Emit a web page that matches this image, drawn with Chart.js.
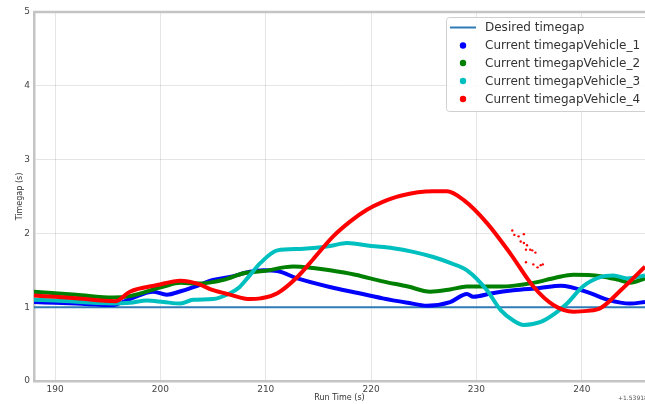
<!DOCTYPE html>
<html>
<head>
<meta charset="utf-8">
<script src="https://cdn.jsdelivr.net/npm/chart.js@4"></script>
<style>
  html, body { margin: 0; padding: 0; background: #fff; }
  canvas { display: block; }
</style>
</head>
<body>
<canvas id="chart" width="645" height="404"></canvas>
<script>
const seriesNames = ['Desired timegap', 'Current timegapVehicle_1', 'Current timegapVehicle_2',
  'Current timegapVehicle_3', 'Current timegapVehicle_4'];
const seriesColors = ['#2f7bb6', '#0000ff', '#008000', '#00bfbf', '#ff0000'];

const xTicks = [190, 200, 210, 220, 230, 240];
const yTicks = [0, 1, 2, 3, 4, 5];

const desiredTime = [188, 246];
const desiredGap = [1.0, 1.0];

const v1Time = [188, 190, 192, 195.5, 197.1, 199.3, 200.6, 202, 203.5, 205, 206.6, 208.5, 209.8, 211.1, 213,
  216.2, 218.5, 221.1, 223.5, 225.3, 227.5, 229.1, 229.7, 231.5, 233.5, 236, 238, 240.8, 242.5, 244.6, 246];
const v1Gap = [1.07, 1.06, 1.05, 1.03, 1.11, 1.21, 1.17, 1.22, 1.29, 1.37, 1.41, 1.48, 1.5, 1.49, 1.39,
  1.27, 1.2, 1.12, 1.06, 1.02, 1.07, 1.18, 1.14, 1.19, 1.23, 1.26, 1.29, 1.19, 1.1, 1.05, 1.07];

const v2Time = [188, 190, 192, 195.5, 197.1, 200.3, 201.9, 203.5, 206, 207.9, 209.8, 212.6, 214.5, 216.1,
  218.5, 221.1, 223.5, 225.6, 227.5, 229.1, 232.3, 235.4, 237.5, 239.2, 241.8, 243.5, 244.6, 246];
const v2Gap = [1.21, 1.19, 1.17, 1.13, 1.15, 1.28, 1.33, 1.32, 1.37, 1.46, 1.49, 1.55, 1.53, 1.5,
  1.44, 1.35, 1.28, 1.21, 1.24, 1.28, 1.28, 1.33, 1.4, 1.44, 1.42, 1.37, 1.33, 1.39];

const v3Time = [188, 190, 195.5, 197.1, 198.7, 200.3, 201.9, 203.1, 205, 206.6, 207.5, 208.3, 209.5, 211.1,
  213.3, 216.1, 217.7, 220, 222.1, 224, 225.9, 227.5, 229.1, 231, 232.3, 233.5, 234.5, 236.1, 237.5, 238.6,
  240.1, 241.8, 243, 244.3, 246];
const v3Gap = [1.1, 1.09, 1.05, 1.06, 1.09, 1.07, 1.05, 1.1, 1.11, 1.19, 1.27, 1.4, 1.6, 1.77,
  1.79, 1.83, 1.87, 1.83, 1.8, 1.75, 1.68, 1.6, 1.5, 1.23, 0.96, 0.82, 0.76, 0.8, 0.92, 1.05,
  1.28, 1.41, 1.43, 1.39, 1.43];

const v4Time = [188, 190, 192, 195.7, 197.1, 199.7, 201.9, 203.5, 205, 206.6, 208.5, 209.5, 211.1, 213,
  214.5, 216.4, 218, 219.6, 221, 222.8, 225.9, 227.2, 228.8, 231, 233.2, 235.4, 237.3, 239.2, 240.5, 241.8,
  243.7, 246];
const v4Gap = [1.16, 1.14, 1.12, 1.08, 1.21, 1.3, 1.36, 1.32, 1.23, 1.17, 1.11, 1.12, 1.19, 1.41,
  1.65, 1.96, 2.16, 2.32, 2.42, 2.51, 2.57, 2.57, 2.45, 2.14, 1.73, 1.28, 1.03, 0.94, 0.95, 0.99,
  1.23, 1.55];

// stray red samples off the main vehicle_4 trace
const v4StrayTime = [233.4, 233.6, 234.0, 234.5, 234.2, 234.5, 234.8, 234.7, 235.1, 235.3, 235.6, 234.7,
  235.4, 236.1, 236.3, 235.8];
const v4StrayGap = [2.04, 1.98, 1.96, 1.99, 1.89, 1.87, 1.84, 1.78, 1.78, 1.77, 1.74, 1.61,
  1.58, 1.57, 1.58, 1.54];

function pts(xs, ys) {
  return xs.map((x, i) => ({ x: x, y: ys[i] }));
}

function lineSet(i, xs, ys, width, order) {
  return {
    label: seriesNames[i],
    data: pts(xs, ys),
    borderColor: seriesColors[i],
    backgroundColor: seriesColors[i],
    borderWidth: width,
    pointRadius: 0,
    cubicInterpolationMode: 'monotone',
    fill: false,
    order: order
  };
}

const frameColor = '#c4c4c4';

const framePlugin = {
  id: 'frame',
  afterDraw(chart) {
    const ctx = chart.ctx;
    const a = chart.chartArea;
    ctx.save();
    ctx.strokeStyle = frameColor;
    ctx.lineWidth = 2.5;
    ctx.beginPath();
    ctx.moveTo(a.left, a.top);
    ctx.lineTo(a.right, a.top);
    ctx.stroke();

    // offset text of the x axis
    ctx.fillStyle = '#555';
    ctx.font = '6px "DejaVu Sans"';
    ctx.textBaseline = 'middle';
    ctx.fillText('+1.53918e9', 618, 398);

    // legend
    const lx = 446, ly = 17, lw = 210, lh = 94;
    ctx.fillStyle = 'rgba(255,255,255,0.85)';
    ctx.strokeStyle = '#d0d0d0';
    ctx.lineWidth = 1;
    ctx.beginPath();
    ctx.roundRect(lx + 0.5, ly + 0.5, lw, lh, 3);
    ctx.fill();
    ctx.stroke();

    ctx.font = '12px "DejaVu Sans"';
    ctx.textBaseline = 'middle';
    const rows = [27.5, 45.5, 63, 81, 99];
    seriesNames.forEach((name, i) => {
      const y = rows[i];
      if (i === 0) {
        ctx.strokeStyle = seriesColors[0];
        ctx.lineWidth = 2;
        ctx.beginPath();
        ctx.moveTo(450, y);
        ctx.lineTo(476, y);
        ctx.stroke();
      } else {
        ctx.fillStyle = seriesColors[i];
        ctx.beginPath();
        ctx.arc(463, y, 3.2, 0, Math.PI * 2);
        ctx.fill();
      }
      ctx.fillStyle = '#333';
      ctx.fillText(name, 485, y + 0.5);
    });
    ctx.restore();
  }
};

new Chart(document.getElementById('chart').getContext('2d'), {
  type: 'line',
  data: {
    datasets: [
      lineSet(0, desiredTime, desiredGap, 2, 6),
      lineSet(1, v1Time, v1Gap, 4, 5),
      lineSet(2, v2Time, v2Gap, 4, 4),
      lineSet(3, v3Time, v3Gap, 4, 3),
      lineSet(4, v4Time, v4Gap, 4, 2),
      {
        label: 'stray',
        data: pts(v4StrayTime, v4StrayGap),
        showLine: false,
        pointRadius: 1.2,
        pointBorderWidth: 0,
        pointBackgroundColor: seriesColors[4],
        borderColor: seriesColors[4],
        order: 1
      }
    ]
  },
  options: {
    responsive: false,
    animation: false,
    events: [],
    layout: { autoPadding: false, padding: { top: 12, right: 0, left: 0, bottom: 0 } },
    plugins: {
      legend: { display: false },
      tooltip: { enabled: false }
    },
    scales: {
      x: {
        type: 'linear',
        min: 188,
        max: 246,
        afterBuildTicks: s => { s.ticks = xTicks.map(v => ({ value: v })); },
        afterFit: s => { s.height = 23; s.paddingLeft = 0; s.paddingRight = 0; },
        grid: { color: 'rgba(0,0,0,0.1)', lineWidth: 1, drawTicks: false },
        border: { color: frameColor, width: 2.5 },
        ticks: { color: '#444', font: { family: 'DejaVu Sans', size: 9 }, padding: 3, maxRotation: 0 },
        title: { display: true, text: 'Run Time (s)', color: '#333',
          font: { family: 'DejaVu Sans', size: 8 }, padding: { top: 0, bottom: 1 } }
      },
      y: {
        min: 0,
        max: 5,
        afterBuildTicks: s => { s.ticks = yTicks.map(v => ({ value: v })); },
        afterFit: s => { s.width = 34; s.paddingTop = 0; s.paddingBottom = 0; },
        grid: { color: 'rgba(0,0,0,0.1)', lineWidth: 1, drawTicks: false },
        border: { color: frameColor, width: 2.5 },
        ticks: { color: '#444', font: { family: 'DejaVu Sans', size: 9 }, padding: 4 },
        title: { display: true, text: 'Timegap (s)', color: '#333',
          font: { family: 'DejaVu Sans', size: 8 }, padding: { top: 15, bottom: 0 } }
      }
    }
  },
  plugins: [framePlugin]
});
</script>
</body>
</html>
